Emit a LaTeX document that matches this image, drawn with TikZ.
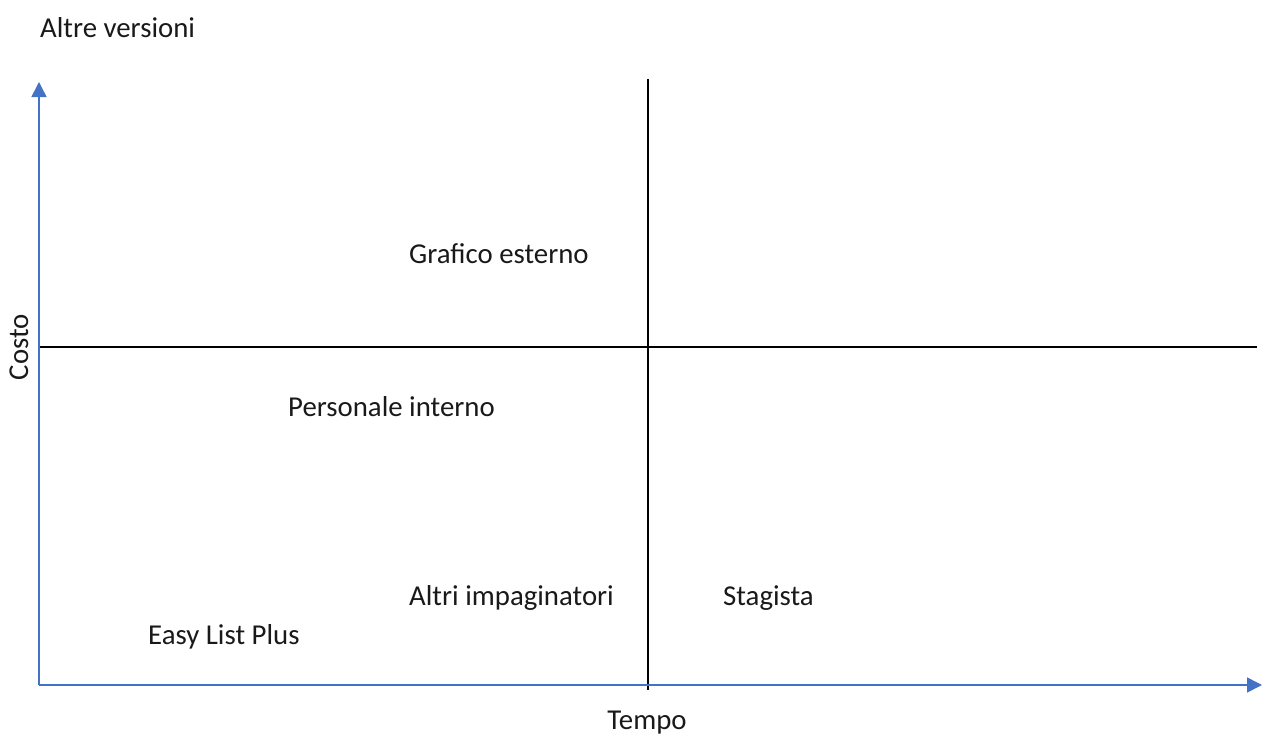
\documentclass[tikz,border=0pt]{standalone}
\usepackage{fontspec}
\setmainfont{Carlito}
\usetikzlibrary{arrows.meta}
\definecolor{axisblue}{HTML}{4472C4}
\tikzset{
  lbl/.style={inner sep=0pt, anchor=base west, font=\fontsize{28.8bp}{34bp}\selectfont, text=black!90},
  axis/.style={draw=axisblue, line width=1.6bp, -{Triangle[length=15bp,width=15bp]}},
  divider/.style={draw=black, line width=1.8bp}
}
\begin{document}
\begin{tikzpicture}[x=1bp,y=1bp]
\useasboundingbox (0,0) rectangle (1262,-736);
% coordinates
\coordinate (O) at (39,-685);
\coordinate (ytop) at (39,-82);
\coordinate (xend) at (1262,-685);
\coordinate (vtop) at (648,-79);
\coordinate (vbot) at (648,-690);
\coordinate (hleft) at (39,-347);
\coordinate (hright) at (1257,-347);
% dividers
\draw[divider] (vtop) -- (vbot);
\draw[divider] (hleft) -- (hright);
% axes
\draw[axis] (O) -- (ytop);
\draw[axis] (O) -- (xend);
% labels
\node[lbl] (title) at (40,-38) {Altre versioni};
\node[lbl] (grafico) at (409,-263) {Grafico esterno};
\node[lbl] (personale) at (288,-416) {Personale interno};
\node[lbl] (altri) at (409,-605) {Altri impaginatori};
\node[lbl] (stagista) at (723,-605) {Stagista};
\node[lbl] (easy) at (148,-644) {Easy List Plus};
\node[lbl, anchor=base] (tempo) at (647,-729) {Tempo};
\node[lbl, anchor=base, rotate=90] (costo) at (28,-347) {Costo};
\end{tikzpicture}
\end{document}
